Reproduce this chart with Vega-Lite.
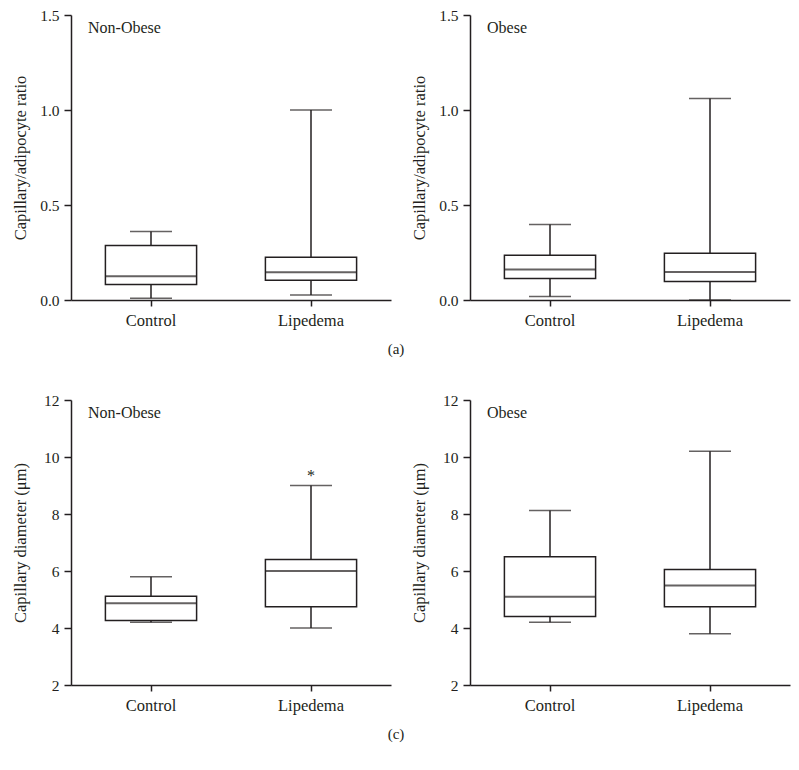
{
  "$schema": "https://vega.github.io/schema/vega-lite/v6.json",
  "padding": {"left": 12, "top": 8, "right": 5, "bottom": 5},
  "background": "white",
  "data": {"values": [
    {"panel": "a_no", "group": "Control", "min": 0.009, "q1": 0.081, "median": 0.125, "q3": 0.287, "max": 0.360, "sig": ""},
    {"panel": "a_no", "group": "Lipedema", "min": 0.026, "q1": 0.104, "median": 0.146, "q3": 0.225, "max": 1.0, "sig": ""},
    {"panel": "a_o", "group": "Control", "min": 0.018, "q1": 0.113, "median": 0.160, "q3": 0.236, "max": 0.397, "sig": ""},
    {"panel": "a_o", "group": "Lipedema", "min": 0.0, "q1": 0.098, "median": 0.148, "q3": 0.246, "max": 1.06, "sig": ""},
    {"panel": "c_no", "group": "Control", "min": 4.20, "q1": 4.26, "median": 4.87, "q3": 5.11, "max": 5.80, "sig": ""},
    {"panel": "c_no", "group": "Lipedema", "min": 4.0, "q1": 4.75, "median": 6.0, "q3": 6.40, "max": 9.0, "sig": "*", "sigPos": 9.16},
    {"panel": "c_o", "group": "Control", "min": 4.20, "q1": 4.40, "median": 5.10, "q3": 6.50, "max": 8.12, "sig": ""},
    {"panel": "c_o", "group": "Lipedema", "min": 3.80, "q1": 4.75, "median": 5.49, "q3": 6.05, "max": 10.2, "sig": ""}
  ]},
  "spacing": 36,
  "vconcat": [
    {
      "title": {"text": "(a)", "orient": "bottom", "anchor": "middle", "frame": "bounds", "offset": 13, "fontSize": 15, "dx": -5, "dy": 0, "baseline": "top"},
      "spacing": 20,
      "hconcat": [
        {
          "width": 320, "height": 285,
          "title": {"text": "Non-Obese"},
          "transform": [{"filter": "datum.panel === 'a_no'"}],
          "encoding": {"x": {"field": "group", "type": "nominal", "scale": {"domain": ["Control", "Lipedema"], "paddingInner": 0, "paddingOuter": 0}}},
          "layer": [
            {"mark": {"type": "rule", "color": "#231f20", "strokeWidth": 1.5},
             "encoding": {"y": {"field": "min", "type": "quantitative", "scale": {"domain": [0, 1.5], "nice": false, "zero": false}, "axis": {"title": "Capillary/adipocyte ratio", "values": [0, 0.5, 1, 1.5], "format": ".1f"}}, "y2": {"field": "max"}}},
            {"mark": {"type": "tick", "size": 42, "thickness": 1.5, "color": "#231f20"}, "encoding": {"y": {"field": "min", "type": "quantitative"}}},
            {"mark": {"type": "tick", "size": 42, "thickness": 1.5, "color": "#231f20"}, "encoding": {"y": {"field": "max", "type": "quantitative"}}},
            {"mark": {"type": "bar", "fill": "white", "stroke": "#231f20", "strokeWidth": 1.5, "width": {"band": 0.57}}, "encoding": {"y": {"field": "q1", "type": "quantitative"}, "y2": {"field": "q3"}}},
            {"mark": {"type": "tick", "size": 91, "thickness": 2, "color": "#231f20"}, "encoding": {"y": {"field": "median", "type": "quantitative"}}}
          ]
        },
        {
          "width": 320, "height": 285,
          "title": {"text": "Obese"},
          "transform": [{"filter": "datum.panel === 'a_o'"}],
          "encoding": {"x": {"field": "group", "type": "nominal", "scale": {"domain": ["Control", "Lipedema"], "paddingInner": 0, "paddingOuter": 0}}},
          "layer": [
            {"mark": {"type": "rule", "color": "#231f20", "strokeWidth": 1.5},
             "encoding": {"y": {"field": "min", "type": "quantitative", "scale": {"domain": [0, 1.5], "nice": false, "zero": false}, "axis": {"title": "Capillary/adipocyte ratio", "values": [0, 0.5, 1, 1.5], "format": ".1f"}}, "y2": {"field": "max"}}},
            {"mark": {"type": "tick", "size": 42, "thickness": 1.5, "color": "#231f20"}, "encoding": {"y": {"field": "min", "type": "quantitative"}}},
            {"mark": {"type": "tick", "size": 42, "thickness": 1.5, "color": "#231f20"}, "encoding": {"y": {"field": "max", "type": "quantitative"}}},
            {"mark": {"type": "bar", "fill": "white", "stroke": "#231f20", "strokeWidth": 1.5, "width": {"band": 0.57}}, "encoding": {"y": {"field": "q1", "type": "quantitative"}, "y2": {"field": "q3"}}},
            {"mark": {"type": "tick", "size": 91, "thickness": 2, "color": "#231f20"}, "encoding": {"y": {"field": "median", "type": "quantitative"}}}
          ]
        }
      ]
    },
    {
      "title": {"text": "(c)", "orient": "bottom", "anchor": "middle", "frame": "bounds", "offset": 13, "fontSize": 15, "dx": -5, "dy": 0, "baseline": "top"},
      "spacing": 20,
      "hconcat": [
        {
          "width": 320, "height": 285,
          "title": {"text": "Non-Obese"},
          "transform": [{"filter": "datum.panel === 'c_no'"}],
          "encoding": {"x": {"field": "group", "type": "nominal", "scale": {"domain": ["Control", "Lipedema"], "paddingInner": 0, "paddingOuter": 0}}},
          "layer": [
            {"mark": {"type": "rule", "color": "#231f20", "strokeWidth": 1.5},
             "encoding": {"y": {"field": "min", "type": "quantitative", "scale": {"domain": [2, 12], "nice": false, "zero": false}, "axis": {"title": "Capillary diameter (μm)", "values": [2, 4, 6, 8, 10, 12]}}, "y2": {"field": "max"}}},
            {"mark": {"type": "tick", "size": 42, "thickness": 1.5, "color": "#231f20"}, "encoding": {"y": {"field": "min", "type": "quantitative"}}},
            {"mark": {"type": "tick", "size": 42, "thickness": 1.5, "color": "#231f20"}, "encoding": {"y": {"field": "max", "type": "quantitative"}}},
            {"mark": {"type": "bar", "fill": "white", "stroke": "#231f20", "strokeWidth": 1.5, "width": {"band": 0.57}}, "encoding": {"y": {"field": "q1", "type": "quantitative"}, "y2": {"field": "q3"}}},
            {"mark": {"type": "tick", "size": 91, "thickness": 2, "color": "#231f20"}, "encoding": {"y": {"field": "median", "type": "quantitative"}}},
            {"transform": [{"filter": "datum.sig !== ''"}],
             "mark": {"type": "text", "font": "Liberation Serif, DejaVu Serif, serif", "fontSize": 16, "baseline": "alphabetic", "color": "#231f20"},
             "encoding": {"y": {"field": "sigPos", "type": "quantitative"}, "text": {"field": "sig"}}}
          ]
        },
        {
          "width": 320, "height": 285,
          "title": {"text": "Obese"},
          "transform": [{"filter": "datum.panel === 'c_o'"}],
          "encoding": {"x": {"field": "group", "type": "nominal", "scale": {"domain": ["Control", "Lipedema"], "paddingInner": 0, "paddingOuter": 0}}},
          "layer": [
            {"mark": {"type": "rule", "color": "#231f20", "strokeWidth": 1.5},
             "encoding": {"y": {"field": "min", "type": "quantitative", "scale": {"domain": [2, 12], "nice": false, "zero": false}, "axis": {"title": "Capillary diameter (μm)", "values": [2, 4, 6, 8, 10, 12]}}, "y2": {"field": "max"}}},
            {"mark": {"type": "tick", "size": 42, "thickness": 1.5, "color": "#231f20"}, "encoding": {"y": {"field": "min", "type": "quantitative"}}},
            {"mark": {"type": "tick", "size": 42, "thickness": 1.5, "color": "#231f20"}, "encoding": {"y": {"field": "max", "type": "quantitative"}}},
            {"mark": {"type": "bar", "fill": "white", "stroke": "#231f20", "strokeWidth": 1.5, "width": {"band": 0.57}}, "encoding": {"y": {"field": "q1", "type": "quantitative"}, "y2": {"field": "q3"}}},
            {"mark": {"type": "tick", "size": 91, "thickness": 2, "color": "#231f20"}, "encoding": {"y": {"field": "median", "type": "quantitative"}}}
          ]
        }
      ]
    }
  ],
  "config": {
    "view": {"stroke": null},
    "font": "Liberation Serif, DejaVu Serif, serif",
    "axis": {"grid": false, "domainColor": "#231f20", "tickColor": "#231f20", "labelColor": "#231f20", "titleColor": "#231f20", "labelFont": "Liberation Serif, DejaVu Serif, serif", "titleFont": "Liberation Serif, DejaVu Serif, serif", "labelFontSize": 15.5, "titleFontSize": 16.5, "titleFontWeight": "normal", "domainWidth": 1.5, "tickWidth": 1.5},
    "axisX": {"tickSize": 6, "labelPadding": 6, "labelFontSize": 16.5, "labelAngle": 0, "title": null},
    "axisY": {"tickSize": 7, "labelPadding": 5, "minExtent": 33, "maxExtent": 33, "titlePadding": 10},
    "title": {"anchor": "start", "frame": "group", "offset": -28, "dx": 17, "fontSize": 16, "font": "Liberation Serif, DejaVu Serif, serif", "fontWeight": "normal", "color": "#231f20", "baseline": "alphabetic"}
  }
}
